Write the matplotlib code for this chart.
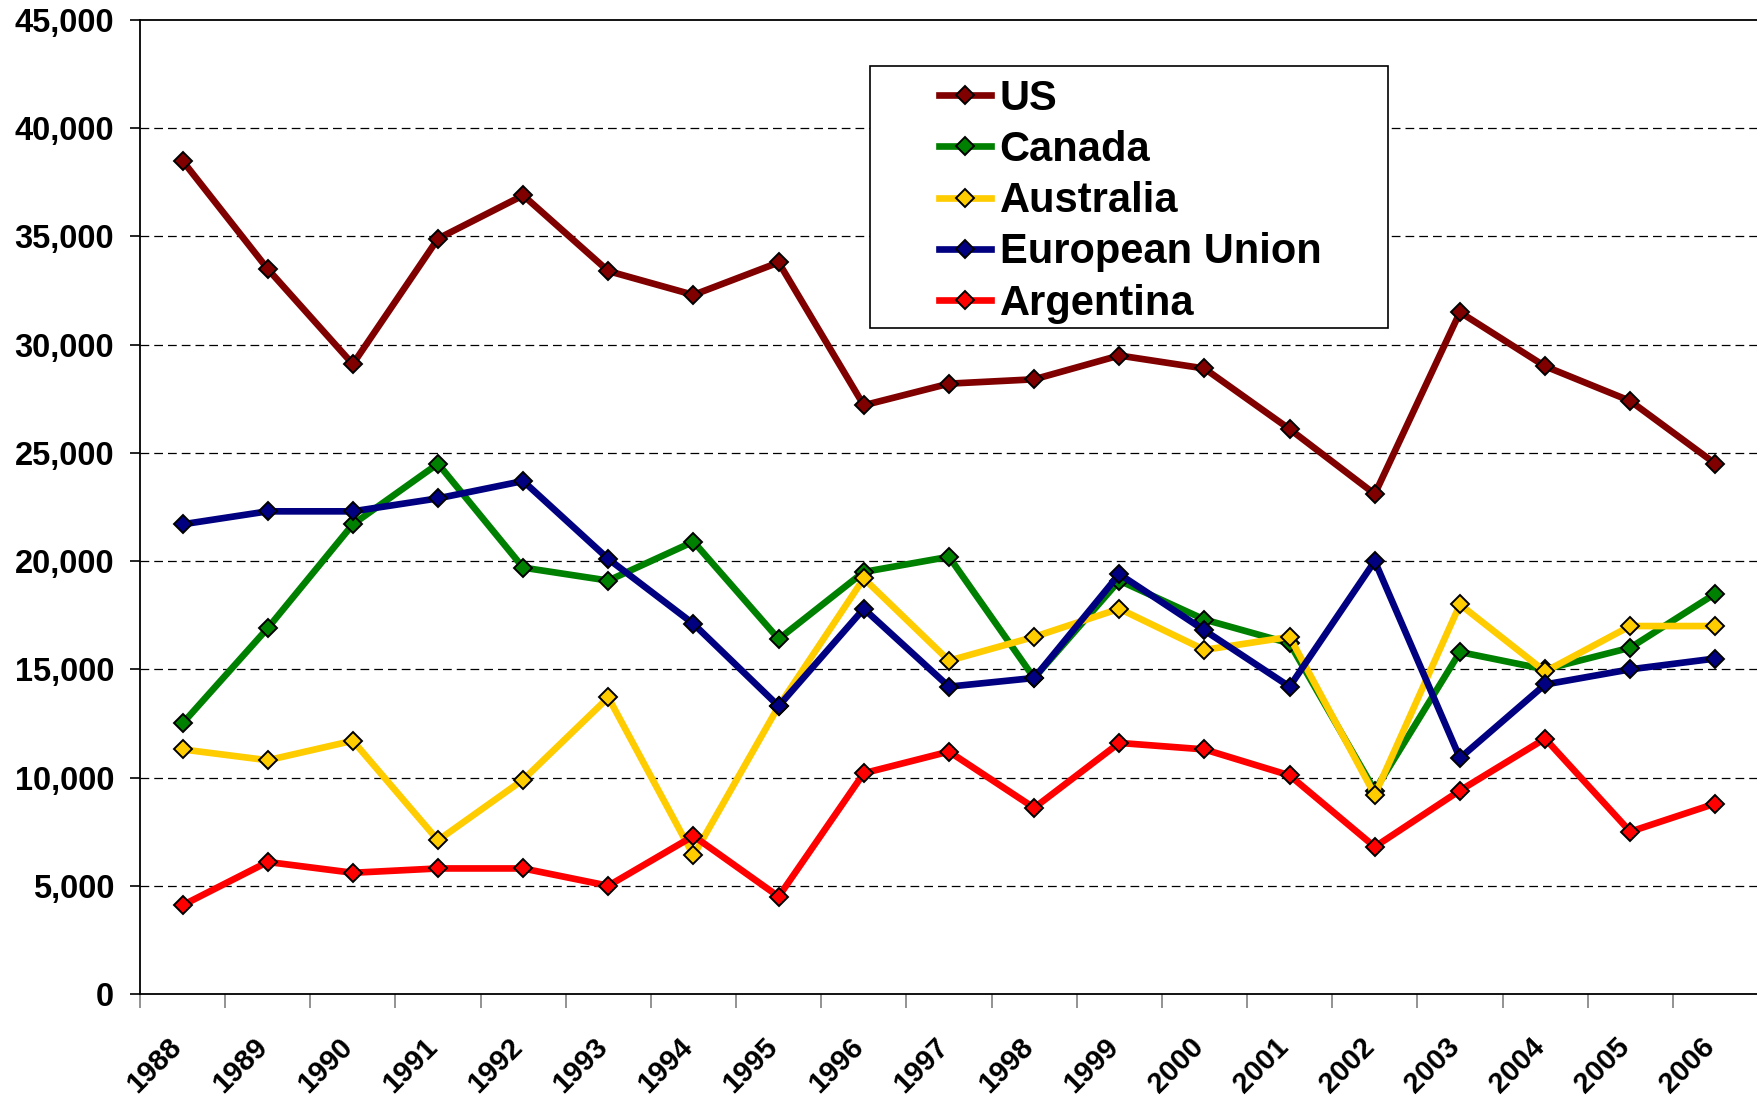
import matplotlib
matplotlib.use("Agg")
import matplotlib.pyplot as plt
import matplotlib.transforms as mtransforms
from matplotlib.patches import Rectangle
from matplotlib.ticker import FuncFormatter, FixedLocator

plt.rcParams['font.family'] = ['Liberation Sans', 'DejaVu Sans']
plt.rcParams['font.weight'] = 'bold'

years = ['1988', '1989', '1990', '1991', '1992', '1993', '1994', '1995', '1996', '1997',
         '1998', '1999', '2000', '2001', '2002', '2003', '2004', '2005', '2006']

us = [38500, 33500, 29100, 34900, 36900, 33400, 32300, 33800, 27200, 28200,
      28400, 29500, 28900, 26100, 23100, 31500, 29000, 27400, 24500]
canada = [12500, 16900, 21700, 24500, 19700, 19100, 20900, 16400, 19500, 20200,
          14600, 19100, 17300, 16200, 9400, 15800, 15000, 16000, 18500]
australia = [11300, 10800, 11700, 7100, 9900, 13700, 6400, 13300, 19200, 15400,
             16500, 17800, 15900, 16500, 9200, 18000, 14900, 17000, 17000]
eu = [21700, 22300, 22300, 22900, 23700, 20100, 17100, 13300, 17800, 14200,
      14600, 19400, 16800, 14200, 20000, 10900, 14300, 15000, 15500]
argentina = [4100, 6100, 5600, 5800, 5800, 5000, 7300, 4500, 10200, 11200,
             8600, 11600, 11300, 10100, 6800, 9400, 11800, 7500, 8800]

series_names = ['US', 'Canada', 'Australia', 'European Union', 'Argentina']
series_values = [us, canada, australia, eu, argentina]
series_colors = ['#800000', '#008000', '#FFCC00', '#000080', '#FF0000']

fig = plt.figure(figsize=(17.58, 11.01), dpi=100)
ax = fig.add_axes([0.0796, 0.0972, 0.9204, 0.8846])

x = list(range(len(years)))
handles = []
for name, vals, col in zip(series_names, series_values, series_colors):
    h, = ax.plot(x, vals, color=col, lw=4.8, marker='D', markersize=9,
                 markerfacecolor=col, markeredgecolor='black', markeredgewidth=1.4,
                 label=name, zorder=3)
    handles.append(h)

ax.set_xlim(-0.5, len(years) - 0.5)
ax.set_ylim(0, 45000)

# y axis
ax.set_yticks(range(0, 45001, 5000))
ax.yaxis.set_major_formatter(FuncFormatter(lambda v, p: f"{int(v):,}"))
ax.tick_params(axis='y', direction='out', length=7.5, width=1.2, labelsize=23.5, pad=11)
for v in range(5000, 45000, 5000):
    ax.axhline(v, color='black', lw=0.9, dashes=(7, 4), zorder=1)

# x axis: boundary ticks (major), labels at centers (minor)
ax.xaxis.set_major_locator(FixedLocator([i - 0.5 for i in range(len(years) + 1)]))
ax.xaxis.set_major_formatter(FuncFormatter(lambda v, p: ''))
ax.xaxis.set_minor_locator(FixedLocator(x))
ax.set_xticklabels(years, minor=True)
ax.tick_params(axis='x', which='major', direction='out', length=10, width=1.2, color='#808080')
ax.tick_params(axis='x', which='minor', length=0, labelsize=21, pad=28)
shift = mtransforms.ScaledTranslation(-15 / 100, 0, fig.dpi_scale_trans)
for lbl in ax.get_xticklabels(minor=True):
    lbl.set_rotation(45)
    lbl.set_ha('right')
    lbl.set_va('top')
    lbl.set_rotation_mode('anchor')
    lbl.set_fontweight('bold')
    lbl.set_transform(lbl.get_transform() + shift)
for lbl in ax.get_yticklabels():
    lbl.set_fontweight('bold')

for s in ['left', 'bottom', 'top']:
    ax.spines[s].set_linewidth(1.3)
ax.spines['right'].set_visible(False)

# legend
leg = ax.legend(handles=handles, loc='center left', bbox_to_anchor=(0.494, 0.814),
                frameon=False, fontsize=30, handlelength=1.25, handletextpad=0.2,
                labelspacing=0.27, borderpad=0, borderaxespad=0)
for t in leg.get_texts():
    t.set_fontweight('bold')
ax.add_patch(Rectangle((0.4512, 0.6833), 0.7713 - 0.4512, 0.9528 - 0.6833,
                       transform=ax.transAxes, fill=True, facecolor='white',
                       edgecolor='black', lw=1.2, zorder=4))
leg.set_zorder(5)

fig.savefig('out.png', dpi=100)
